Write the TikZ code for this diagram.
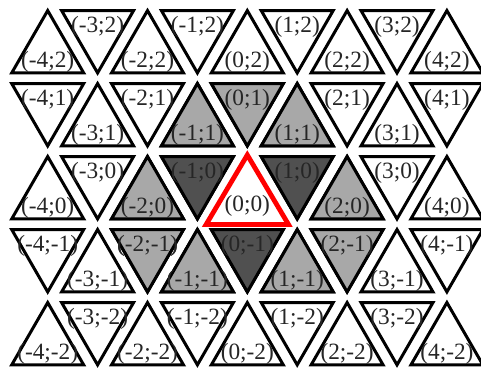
\documentclass[tikz,border=0pt]{standalone}
\usepackage{fontspec}
\setmainfont{Liberation Serif}

\definecolor{darkcell}{RGB}{80,80,80}
\definecolor{lightcell}{RGB}{168,168,168}

\tikzset{
  cell/.style={draw=black,line width=2.25pt,line join=miter},
  origin/.style={draw=red,fill=white,line width=3.6pt,line join=miter},
  celllabel/.style={font=\fontsize{17.5}{18}\selectfont,inner sep=0pt,text=black!85}
}

% one cell of the grid: x, y, fill
\newcommand{\trianglecell}[3]{%
  \pgfmathtruncatemacro\parity{#1+#2}%
  \ifodd\parity
    \filldraw[cell,fill=#3] (#1-0.721,#2+0.427) -- (#1+0.721,#2+0.427) -- (#1,#2-0.427) -- cycle;
    \node[celllabel] (c#1x#2) at (#1,#2+0.2) {(#1;#2)};
  \else
    \filldraw[cell,fill=#3] (#1,#2+0.427) -- (#1+0.721,#2-0.427) -- (#1-0.721,#2-0.427) -- cycle;
    \node[celllabel] (c#1x#2) at (#1,#2-0.27) {(#1;#2)};
  \fi}

\begin{document}
\begin{tikzpicture}[x=37.43pt,y=54.75pt]
\useasboundingbox (-4.956,-2.497) rectangle (4.683,2.572);
\fill[white] (-4.956,-2.497) rectangle (4.683,2.572);
\clip (-4.956,-2.497) rectangle (4.683,2.572);
\foreach \j in {-2,...,2}
  \foreach \i in {-4,...,4}
    {\trianglecell{\i}{\j}{white}}
% neighbours of the origin
\foreach \i/\j in {-1/1,0/1,1/1,-2/0,2/0,-2/-1,-1/-1,1/-1,2/-1}
  {\trianglecell{\i}{\j}{lightcell}}
\foreach \i/\j in {-1/0,1/0,0/-1}
  {\trianglecell{\i}{\j}{darkcell}}
% the origin
\filldraw[origin] (0,0.449) -- (0.825,-0.503) -- (-0.825,-0.503) -- cycle;
\node[celllabel] (c0x0) at (0,-0.25) {(0;0)};
\end{tikzpicture}
\end{document}
